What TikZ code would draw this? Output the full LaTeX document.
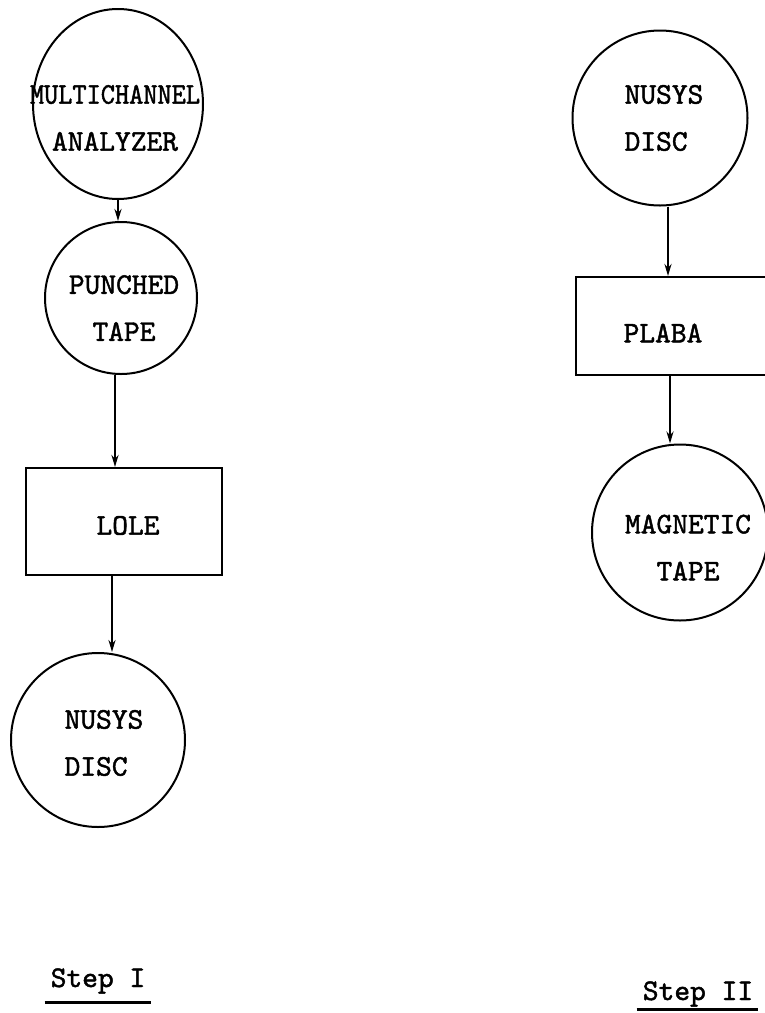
\documentclass[tikz,border=0pt]{standalone}
\usepackage{fontspec}
\newfontfamily\typer{lmmono10-regular.otf}[FakeBold=1.5]
\usepackage{tikz}
\usetikzlibrary{arrows.meta,shapes.geometric,positioning}

\begin{document}
\begin{tikzpicture}[x=1pt, y=-1pt,
    every node/.style={font=\fontsize{30}{47}\selectfont\typer},
    disc/.style={draw, circle, line width=2pt, inner sep=0pt},
    proc/.style={draw, rectangle, line width=2pt, inner sep=0pt},
    arr/.style={-{Stealth[length=12pt,width=7pt]}, line width=2pt},
    steplbl/.style={inner sep=0pt, anchor=base},
    ul/.style={line width=3pt}]
    \useasboundingbox (0,0) rectangle (765,1013);
    \clip (0,0) rectangle (765,1013);

    % Step I
    \node[disc, ellipse, minimum width=170pt, minimum height=190pt, label={[align=center, xshift=-3pt, yshift=-14pt]center:{\scalebox{0.9}[1]{MULTICHANNEL}\\ANALYZER}}] (mca) at (118,104) {};
    \node[disc, minimum size=152pt, label={[align=center, xshift=3pt, yshift=-10pt]center:{PUNCHED\\TAPE}}] (punch) at (121,298) {};
    \node[proc, minimum width=196pt, minimum height=107pt, label={[xshift=4pt, yshift=-4pt]center:LOLE}] (lole) at (124,521.5) {};
    \node[disc, minimum size=174pt, label={[align=left, xshift=6pt, yshift=-3pt]center:{NUSYS\\DISC}}] (nusysA) at (98,740) {};
    \draw[arr] (mca.south) -- (mca.south |- punch.north);
    \draw[arr] ([xshift=-6pt]punch.south) -- ([xshift=-6pt]punch.south |- lole.north);
    \draw[arr] ([xshift=-12pt]lole.south) -- ([xshift=-12pt]lole.south |- nusysA.north);

    % Step II
    \node[disc, minimum size=175pt, label={[align=left, xshift=4pt]center:{NUSYS\\DISC}}] (nusysB) at (660,118) {};
    \node[proc, minimum width=200pt, minimum height=98pt, label={[xshift=-13pt, yshift=-7pt]center:PLABA}] (plaba) at (676,326) {};
    \node[disc, minimum size=176pt, label={[align=center, xshift=8pt, yshift=-15pt]center:{MAGNETIC\\TAPE}}] (mag) at (680,532.5) {};
    \draw[arr] ([xshift=8pt]nusysB.south) -- ([xshift=8pt]nusysB.south |- plaba.north);
    \draw[arr] ([xshift=-6pt]plaba.south) -- ([xshift=-6pt]plaba.south |- mag.north);

    \node[steplbl] (stepI) at (98,987) {Step I};
    \node[steplbl] (stepII) at (698,1000) {Step II};
    \draw[ul] ([xshift=-6pt, yshift=-15pt]stepI.base west) -- ([xshift=6pt, yshift=-15pt]stepI.base east);
    \draw[ul] ([xshift=-6pt, yshift=-9pt]stepII.base west) -- ([xshift=5pt, yshift=-9pt]stepII.base east);
\end{tikzpicture}
\end{document}
